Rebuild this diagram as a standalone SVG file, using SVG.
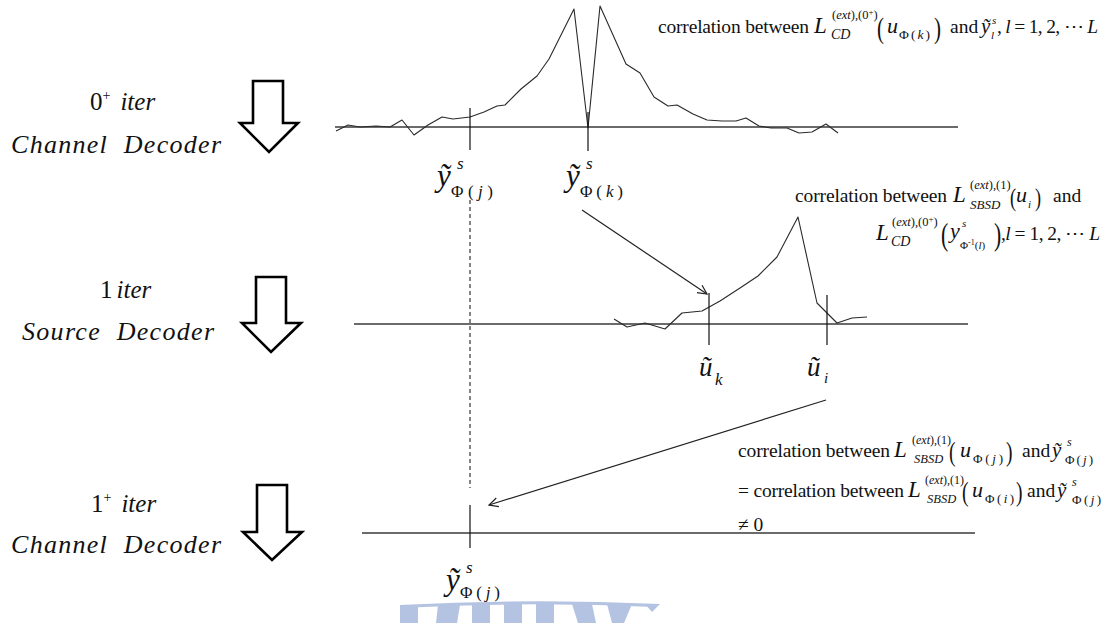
<svg xmlns="http://www.w3.org/2000/svg" width="1117" height="623" viewBox="0 0 1117 623" font-size="19.5">
<style>
.s{font-family:"Liberation Serif","Times New Roman",serif;fill:#111}
.i{font-style:italic}
.ax{stroke:#3a3a3a;stroke-width:1.4;fill:none}
.cv{stroke:#2a2a2a;stroke-width:1.1;fill:none;stroke-linejoin:round}
.tk{stroke:#111;stroke-width:1.2}
.ar{stroke:#222;stroke-width:1.2;fill:none}
.big{fill:#fff;stroke:#000;stroke-width:2.6;stroke-linejoin:miter}
.wm{fill:#b3c3e1}
</style>
<defs>
<marker id="oa" markerWidth="12" markerHeight="12" refX="10" refY="5" orient="auto" markerUnits="userSpaceOnUse" viewBox="0 0 12 10">
<path d="M1,0.5 L10,5 L1,9.5" fill="none" stroke="#222" stroke-width="1.2"/>
</marker>
</defs>

<!-- left stage labels -->
<g id="stage0">
<text class="s" x="90" y="110" font-size="25">0<tspan font-size="14" dy="-10">+</tspan><tspan class="i" dy="10" dx="10">iter</tspan></text>
<text class="s i" x="11" y="153" font-size="26" textLength="210" lengthAdjust="spacing">Channel&#160; Decoder</text>
<polygon class="big" points="253,81 283,81 283,123 298,123 269,152 240,123 253,123"/>
</g>
<g id="stage1">
<text class="s" x="100" y="298" font-size="25">1<tspan class="i" dx="4">iter</tspan></text>
<text class="s i" x="22" y="340" font-size="26" textLength="192" lengthAdjust="spacing">Source&#160; Decoder</text>
<polygon class="big" points="256,277 286,277 286,323 301,323 271,352 242,323 256,323"/>
</g>
<g id="stage2">
<text class="s" x="91" y="512" font-size="25">1<tspan font-size="14" dy="-10">+</tspan><tspan class="i" dy="10" dx="10">iter</tspan></text>
<text class="s i" x="11" y="553" font-size="26" textLength="210" lengthAdjust="spacing">Channel&#160; Decoder</text>
<polygon class="big" points="257,485 287,485 287,532 302,532 272,560 243,532 257,532"/>
</g>

<!-- top plot -->
<g id="plot0">
<line class="ax" x1="335" y1="127" x2="958" y2="127"/>
<polyline class="cv" points="336,131 348,125 360,127 376,126 390,127 402,120 414,135 428,125 442,117 453,119 470,117 484,112 497,106 505,105 521,89 537,76 549,59 574,9 588,128 600,6 626,64 640,73 654,97 668,106 677,105 693,114 707,120 722,121 736,121 746,118 759,126 771,128 787,128 799,133 812,132 826,124 838,133"/>
<line class="tk" x1="470" y1="108" x2="470" y2="150"/>
<line class="tk" x1="588" y1="112" x2="588" y2="151"/>
<text class="s i" x="437" y="186" font-size="31">ỹ</text>
<text class="s i" x="457" y="169" font-size="17">s</text>
<text class="s" x="451" y="197" font-size="17" textLength="42" lengthAdjust="spacing">Φ(<tspan class="i">j</tspan>)</text>
<text class="s i" x="566" y="186" font-size="31">ỹ</text>
<text class="s i" x="586" y="169" font-size="17">s</text>
<text class="s" x="580" y="197" font-size="17" textLength="43" lengthAdjust="spacing">Φ(<tspan class="i">k</tspan>)</text>
</g>

<!-- middle plot -->
<g id="plot1">
<line class="ax" x1="354" y1="324" x2="968" y2="324"/>
<polyline class="cv" points="614,319 627,327 645,323 665,329 682,313 702,311 720,301 740,288 758,276 777,257 798,217 817,303 837,323 852,318 867,317"/>
<line class="tk" x1="709" y1="293" x2="709" y2="345"/>
<line class="tk" x1="827" y1="295" x2="827" y2="345"/>
<text class="s i" x="699" y="376" font-size="27">ũ</text>
<text class="s i" x="715" y="385" font-size="17">k</text>
<text class="s i" x="807" y="376" font-size="27">ũ</text>
<text class="s i" x="824" y="383" font-size="15">i</text>
</g>

<!-- bottom plot -->
<g id="plot2">
<line class="ax" x1="362" y1="533" x2="975" y2="533"/>
<line class="tk" x1="470" y1="505" x2="470" y2="548"/>
<text class="s i" x="446" y="590" font-size="31">ỹ</text>
<text class="s i" x="466" y="573" font-size="17">s</text>
<text class="s" x="460" y="598" font-size="17" textLength="40" lengthAdjust="spacing">Φ(<tspan class="i">j</tspan>)</text>
</g>

<!-- connectors -->
<g id="connectors">
<line x1="470" y1="200" x2="470" y2="488" stroke="#222" stroke-width="1.1" stroke-dasharray="4,3"/>
<line class="ar" x1="582" y1="210" x2="707" y2="294" marker-end="url(#oa)"/>
<line class="ar" x1="826" y1="400" x2="489" y2="505" marker-end="url(#oa)"/>
</g>

<!-- annotation top -->
<g id="note0">
<text class="s" x="658" y="33" textLength="151" lengthAdjust="spacing">correlation between</text>
<text class="s i" x="814" y="33" font-size="23">L</text>
<text class="s" x="832" y="19" font-size="12.5">(<tspan class="i">ext</tspan>),(0<tspan font-size="9" dy="-4">+</tspan><tspan dy="4">)</tspan></text>
<text class="s i" x="831" y="39" font-size="14">CD</text>
<text class="s" transform="translate(877,38) scale(0.7,1)" font-size="30">(</text>
<text class="s i" x="887" y="33" font-size="22">u</text>
<text class="s" x="899" y="39" font-size="13.5" textLength="31" lengthAdjust="spacing">Φ(<tspan class="i">k</tspan>)</text>
<text class="s" transform="translate(934,38) scale(0.7,1)" font-size="30">)</text>
<text class="s" x="950" y="33">and</text>
<text class="s i" x="981" y="33" font-size="21">ỹ</text>
<text class="s i" x="992" y="24" font-size="11">s</text>
<text class="s i" x="991" y="39" font-size="11">l</text>
<text class="s" x="997" y="33" textLength="101" lengthAdjust="spacing">, <tspan class="i">l</tspan> = 1, 2, ⋯ <tspan class="i">L</tspan></text>
</g>

<!-- annotation middle -->
<g id="note1">
<text class="s" x="795" y="202" textLength="152" lengthAdjust="spacing">correlation between</text>
<text class="s i" x="953" y="202" font-size="23">L</text>
<text class="s" x="970" y="189" font-size="12.5">(<tspan class="i">ext</tspan>),(1)</text>
<text class="s i" x="970" y="209" font-size="13">SBSD</text>
<text class="s" transform="translate(1010,206) scale(0.7,1)" font-size="26">(</text>
<text class="s i" x="1016" y="202" font-size="22">u</text>
<text class="s i" x="1028" y="208" font-size="11">i</text>
<text class="s" transform="translate(1035,206) scale(0.7,1)" font-size="26">)</text>
<text class="s" x="1053" y="202">and</text>
<text class="s i" x="876" y="240" font-size="23">L</text>
<text class="s" x="892" y="226" font-size="12.5">(<tspan class="i">ext</tspan>),(0<tspan font-size="9" dy="-4">+</tspan><tspan dy="4">)</tspan></text>
<text class="s i" x="891" y="246" font-size="14">CD</text>
<text class="s" transform="translate(941,245) scale(0.7,1)" font-size="31">(</text>
<text class="s i" x="950" y="238" font-size="22">y</text>
<text class="s i" x="962" y="227" font-size="11">s</text>
<text class="s" x="960" y="249" font-size="11">Φ<tspan font-size="8" dy="-4">-1</tspan><tspan dy="4">(<tspan class="i">l</tspan>)</tspan></text>
<text class="s" transform="translate(994,245) scale(0.7,1)" font-size="31">)</text>
<text class="s" x="1001" y="240" textLength="99" lengthAdjust="spacing">,<tspan class="i">l</tspan> = 1, 2, ⋯ <tspan class="i">L</tspan></text>
</g>

<!-- annotation bottom -->
<g id="note2">
<text class="s" x="738" y="457" textLength="152" lengthAdjust="spacing">correlation between</text>
<text class="s i" x="894" y="457" font-size="23">L</text>
<text class="s" x="912" y="444" font-size="12">(<tspan class="i">ext</tspan>),(1)</text>
<text class="s i" x="914" y="463" font-size="12.5">SBSD</text>
<text class="s" transform="translate(949,461) scale(0.7,1)" font-size="28">(</text>
<text class="s i" x="960" y="457" font-size="22">u</text>
<text class="s" x="973" y="463" font-size="13" textLength="30" lengthAdjust="spacing">Φ(<tspan class="i">j</tspan>)</text>
<text class="s" transform="translate(1006,461) scale(0.7,1)" font-size="28">)</text>
<text class="s" x="1022" y="457">and</text>
<text class="s i" x="1052" y="457" font-size="21">ỹ</text>
<text class="s i" x="1067" y="446" font-size="12">s</text>
<text class="s" x="1065" y="464" font-size="13" textLength="28" lengthAdjust="spacing">Φ(<tspan class="i">j</tspan>)</text>

<text class="s" x="738" y="497" textLength="166" lengthAdjust="spacing">= correlation between</text>
<text class="s i" x="908" y="497" font-size="23">L</text>
<text class="s" x="925" y="484" font-size="12">(<tspan class="i">ext</tspan>),(1)</text>
<text class="s i" x="927" y="503" font-size="12.5">SBSD</text>
<text class="s" transform="translate(962,501) scale(0.7,1)" font-size="28">(</text>
<text class="s i" x="972" y="497" font-size="22">u</text>
<text class="s" x="985" y="503" font-size="13" textLength="29" lengthAdjust="spacing">Φ(<tspan class="i">i</tspan>)</text>
<text class="s" transform="translate(1016,501) scale(0.7,1)" font-size="28">)</text>
<text class="s" x="1027" y="497">and</text>
<text class="s i" x="1057" y="497" font-size="21">ỹ</text>
<text class="s i" x="1072" y="486" font-size="12">s</text>
<text class="s" x="1072" y="504" font-size="13" textLength="29" lengthAdjust="spacing">Φ(<tspan class="i">j</tspan>)</text>

<text class="s" x="738" y="531">≠ 0</text>
</g>

<!-- watermark -->
<g id="watermark">
<path class="wm" d="M400,605 Q530,598 660,604 L655,607 Q530,601 400,608 Z"/>
<polygon class="wm" points="400,607 418,606 418,623 400,623"/>
<polygon class="wm" points="438,605 460,605 457,623 436,623"/>
<polygon class="wm" points="472,604 490,604 490,623 472,623"/>
<polygon class="wm" points="504,604 522,604 522,623 504,623"/>
<polygon class="wm" points="536,604 554,604 554,623 536,623"/>
<polygon class="wm" points="572,604 592,604 596,623 578,623"/>
<polygon class="wm" points="607,604 632,604 624,623 612,623"/>
<polygon class="wm" points="645,604 660,604 652,612"/>
</g>
</svg>
